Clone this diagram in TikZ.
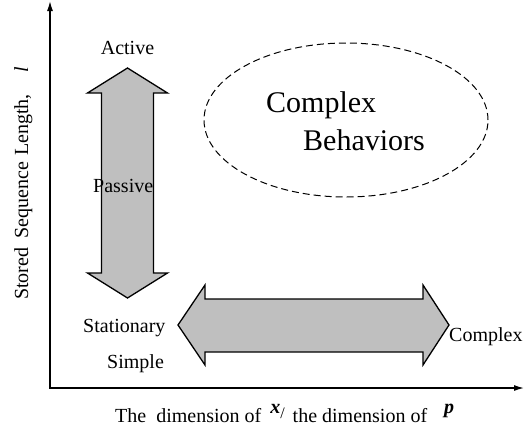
\documentclass[tikz,border=0pt]{standalone}
\usepackage{fontspec}
\setmainfont{Liberation Serif}
\usetikzlibrary{arrows.meta,shapes.geometric}
\begin{document}
\begin{tikzpicture}[x=1pt,y=-1pt,
  lbl/.style={font=\fontsize{20}{24}\selectfont, inner sep=0pt},
  big/.style={font=\fontsize{30}{36}\selectfont, inner sep=0pt},
  fatarrow/.style={draw=black, line width=1.3pt, fill=black!25, line join=miter},
  axis/.style={line width=1.3pt, {Latex[length=10pt,width=6pt]}-{Latex[length=10pt,width=6pt]}},
  cloud/.style={draw, dashed, dash pattern=on 7pt off 4pt, line width=1pt, ellipse, inner sep=0pt}]
\useasboundingbox (0,0) rectangle (525,432);
% axes
\coordinate (ytop) at (50,1);
\coordinate (O) at (50,388);
\coordinate (xend) at (524,388);
\draw[axis] (ytop) -- (O) -- (xend);
% vertical double arrow
\draw[fatarrow] (127.5,68) -- (167.5,93) -- (153.5,93) -- (153.5,273) -- (167.5,273)
  -- (127.5,298) -- (87.5,273) -- (101.5,273) -- (101.5,93) -- (87.5,93) -- cycle;
% horizontal double arrow
\draw[fatarrow] (178,325) -- (205,285) -- (205,299) -- (423,299) -- (423,285)
  -- (449,325) -- (423,365) -- (423,352) -- (205,352) -- (205,365) -- cycle;
% ellipse
\node[cloud, minimum width=284pt, minimum height=154pt] (cb) at (346,120) {};
\node[big, anchor=base west] (c1) at (266,112) {Complex};
\node[big, anchor=base west] (c2) at (303,150) {Behaviors};
% labels
\node[lbl, anchor=base] (active) at (127.5,54) {Active};
\node[lbl, anchor=base west] (passive) at (93,192) {Passive};
\node[lbl, anchor=base west] (stationary) at (83,332) {Stationary};
\node[lbl, anchor=base west] (simple) at (107,368) {Simple};
\node[lbl, anchor=base west] (complex) at (449,341) {Complex};
% axis titles
\node[lbl, rotate=90, anchor=base west] (ylabel) at (28,300)
  {Stored\hspace{9pt}Sequence\hspace{6pt}Length,\hspace{22pt}\textit{l}};
\node[lbl, anchor=base west] (xlabel) at (115,422)
  {The\hspace{10pt}dimension of\hspace{9pt}\raisebox{9pt}{\textbf{\textit{x}}}\raisebox{4pt}{\fontsize{16}{16}\selectfont/}\hspace{8pt}the dimension of\hspace{17pt}\raisebox{9pt}{\textbf{\textit{p}}}};
\end{tikzpicture}
\end{document}
